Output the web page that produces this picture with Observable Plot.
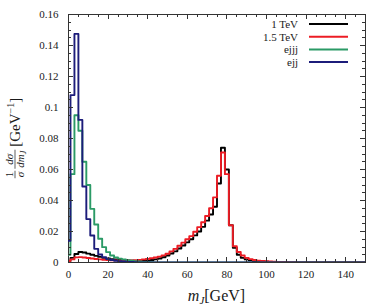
<!DOCTYPE html>
<html><head><meta charset="utf-8">
<script src="https://cdn.jsdelivr.net/npm/d3@7"></script>
<script src="https://cdn.jsdelivr.net/npm/@observablehq/plot@0.6"></script>
<style>body{margin:0;background:#fff}</style>
</head><body><div id="chart"></div>
<script>
const massBins = [0,2,4,6,8,10,12,14,16,18,20,22,24,26,28,30,32,34,36,38,40,42,44,46,48,50,52,54,56,58,60,62,64,66,68,70,72,74,76,78,80,82,84,86,88,90,92,94,96,98,100,102,104,106,108,110,112,114,116,118,120,122,124,126,128,130,132,134,136,138,140,142,144,146,148,150];
const tev1 = [
0.001,0.003,0.0055,0.0068,0.0065,0.0057,0.005,0.0043,0.0036,0.003,
0.0026,0.0022,0.0019,0.0016,0.0014,0.0012,0.0011,0.001,0.001,0.0011,
0.0013,0.0016,0.002,0.0026,0.0034,0.0045,0.0058,0.0072,0.009,0.011,
0.013,0.015,0.0175,0.02,0.023,0.027,0.031,0.036,0.051,0.074,
0.06,0.024,0.0095,0.005,0.003,0.002,0.0014,0.001,0.0008,0.0006,
0.0005,0.0004,0.0003,0.0003,0.0002,0.0002,0.0001,0,0,0,
0,0,0,0,0,0,0,0,0,0,
0,0,0,0,0,0];
const tev15 = [
0.001,0.002,0.0033,0.0035,0.0032,0.0029,0.0026,0.0023,0.002,0.0018,
0.0016,0.0015,0.0014,0.0013,0.0013,0.0013,0.0014,0.0015,0.0017,0.002,
0.0023,0.0027,0.0032,0.0038,0.0046,0.0056,0.0072,0.0088,0.0108,0.0128,
0.015,0.017,0.0198,0.0228,0.026,0.03,0.035,0.042,0.056,0.071,
0.057,0.024,0.0105,0.0068,0.0045,0.003,0.0022,0.0016,0.0012,0.001,
0.0008,0.0006,0.0005,0.0004,0.0003,0.0003,0.0002,0.0002,0.0001,0.0001,
0,0,0,0,0,0,0,0,0,0,
0,0,0,0,0,0];
const ejjj = [
0.005,0.057,0.095,0.085,0.065,0.05,0.0346,0.0245,0.0153,0.0099,
0.0067,0.0045,0.0033,0.0025,0.0019,0.0015,0.0011,0.0008,0.0006,0.0004,
0.0003,0.0002,0.0001,0,0,0,0,0,0,0,
0,0,0,0,0,0,0,0,0,0,
0,0,0,0,0,0,0,0,0,0,
0,0,0,0,0,0,0,0,0,0,
0,0,0,0,0,0,0,0,0,0,
0,0,0,0,0,0];
const ejj = [
0.014,0.108,0.1475,0.092,0.049,0.028,0.0174,0.0088,0.0052,0.0034,
0.0023,0.0016,0.0011,0.0008,0.0006,0.0004,0.0003,0.0002,0.0001,0,
0,0,0,0,0,0,0,0,0,0,
0,0,0,0,0,0,0,0,0,0,
0,0,0,0,0,0,0,0,0,0,
0,0,0,0,0,0,0,0,0,0,
0,0,0,0,0,0,0,0,0,0,
0,0,0,0,0,0];
const seriesNames = ["1 TeV", "1.5 TeV", "ejjj", "ejj"];
const seriesColors = ["#000000", "#ec1c24", "#2b9a66", "#1c1c7a"];
const xTickValues = [0,20,40,60,80,100,120,140];
const yTickValues = [0,0.02,0.04,0.06,0.08,0.1,0.12,0.14,0.16];

(function () {
const rows = [];
[tev1, tev15, ejjj, ejj].forEach((vals, s) =>
  vals.forEach((v, i) => rows.push({series: seriesNames[s], m: massBins[i], v})));

const W = 390, H = 307, ML = 68, MR = 25, MT = 14, MB = 45;
const serif = "'Liberation Serif', 'DejaVu Serif', serif";

const plot = Plot.plot({
  width: W, height: H,
  marginLeft: ML, marginRight: MR, marginTop: MT, marginBottom: MB,
  style: {fontFamily: serif, fontSize: "11px", color: "#1a1a1a", background: "#fff"},
  x: {domain: [0, 150]},
  y: {domain: [0, 0.16]},
  color: {domain: seriesNames, range: seriesColors},
  marks: [
    Plot.frame({stroke: "#333", strokeWidth: 1}),
    Plot.axisX(xTickValues, {anchor: "bottom", tickSize: 0, tickPadding: 8, tickFormat: d => String(d), label: null}),
    Plot.axisY(yTickValues, {anchor: "left", tickSize: 0, tickPadding: 10, tickFormat: d => d === 0 ? "0" : String(+d.toFixed(2)), label: null}),
    Plot.line(rows, {x: "m", y: "v", z: "series", stroke: "series", curve: "step", strokeWidth: 1.9, clip: true})
  ]
});
document.getElementById("chart").appendChild(plot);

const svg = d3.select(plot);
const sx = plot.scale("x"), sy = plot.scale("y");
const pLeft = ML, pRight = W - MR, pTop = MT, pBottom = H - MB;

const tg = svg.append("g").attr("stroke", "#333").attr("stroke-width", 1);
function tick(x1, y1, x2, y2) {
  tg.append("line").attr("x1", x1).attr("y1", y1).attr("x2", x2).attr("y2", y2);
}
d3.range(0, 151, 5).forEach(v => {
  const px = Math.round(sx.apply(v)) + 0.5;
  const len = xTickValues.includes(v) ? 5 : 3;
  tick(px, pBottom, px, pBottom - len);
  tick(px, pTop, px, pTop + len);
});
d3.range(0, 33).forEach(k => {
  const v = +(k * 0.005).toFixed(3);
  const py = Math.round(sy.apply(v)) + 0.5;
  const len = (k % 4 === 0) ? 5 : 3;
  tick(pLeft, py, pLeft + len, py);
  tick(pRight, py, pRight - len, py);
});

// x-axis label
const xl = svg.append("text")
  .attr("x", (pLeft + pRight) / 2).attr("y", 301)
  .attr("text-anchor", "middle")
  .attr("font-family", serif).attr("font-size", 16).attr("fill", "#1a1a1a");
xl.append("tspan").attr("font-style", "italic").text("m");
xl.append("tspan").attr("font-style", "italic").attr("font-size", 11).attr("dy", 3).text("J");
xl.append("tspan").attr("dy", -3).text("[GeV]");

// y-axis label, laid out left-to-right in a rotated group, then centred
const yl = svg.append("g").attr("font-family", serif).attr("fill", "#1a1a1a");
const inner = yl.append("g");
function piece(size, italic) {
  return inner.append("text").attr("font-size", size)
    .attr("font-style", italic ? "italic" : "normal").attr("text-anchor", "start");
}
function fraction(x0, numBuild, denBuild) {
  const n = piece(11, false); numBuild(n);
  const d = piece(11, false); denBuild(d);
  const wn = n.node().getComputedTextLength(), wd = d.node().getComputedTextLength();
  const w = Math.max(wn, wd) + 2;
  n.attr("x", x0 + (w - wn) / 2).attr("y", -2.5);
  d.attr("x", x0 + (w - wd) / 2).attr("y", 8.5);
  inner.append("line").attr("x1", x0).attr("x2", x0 + w).attr("y1", 0).attr("y2", 0)
    .attr("stroke", "#1a1a1a").attr("stroke-width", 0.7);
  return x0 + w;
}
let cx = 0;
cx = fraction(cx, t => t.text("1"), t => t.append("tspan").attr("font-style", "italic").text("σ"));
cx += 2;
cx = fraction(cx,
  t => t.append("tspan").attr("font-style", "italic").text("dσ"),
  t => { t.append("tspan").attr("font-style", "italic").text("dm");
         t.append("tspan").attr("font-style", "italic").attr("font-size", 8).attr("dy", 2).text("J"); });
cx += 3;
const gev = piece(15, false).attr("x", cx).attr("y", 5);
gev.append("tspan").text("[GeV");
gev.append("tspan").attr("font-size", 10).attr("dy", -6).text("−1");
gev.append("tspan").attr("dy", 6).text("]");
const total = cx + gev.node().getComputedTextLength();
yl.attr("transform", `translate(15,${138 + total / 2}) rotate(-90)`);

// legend
const lg = svg.append("g").attr("font-family", serif).attr("font-size", 11).attr("fill", "#1a1a1a");
seriesNames.forEach((name, i) => {
  const cy = 24 + i * 12.7;
  lg.append("text").attr("x", 298).attr("y", cy + 3.8).attr("text-anchor", "end").text(name);
  lg.append("line").attr("x1", 309).attr("x2", 348).attr("y1", cy).attr("y2", cy)
    .attr("stroke", seriesColors[i]).attr("stroke-width", 2);
});
})();
</script>
</body></html>
